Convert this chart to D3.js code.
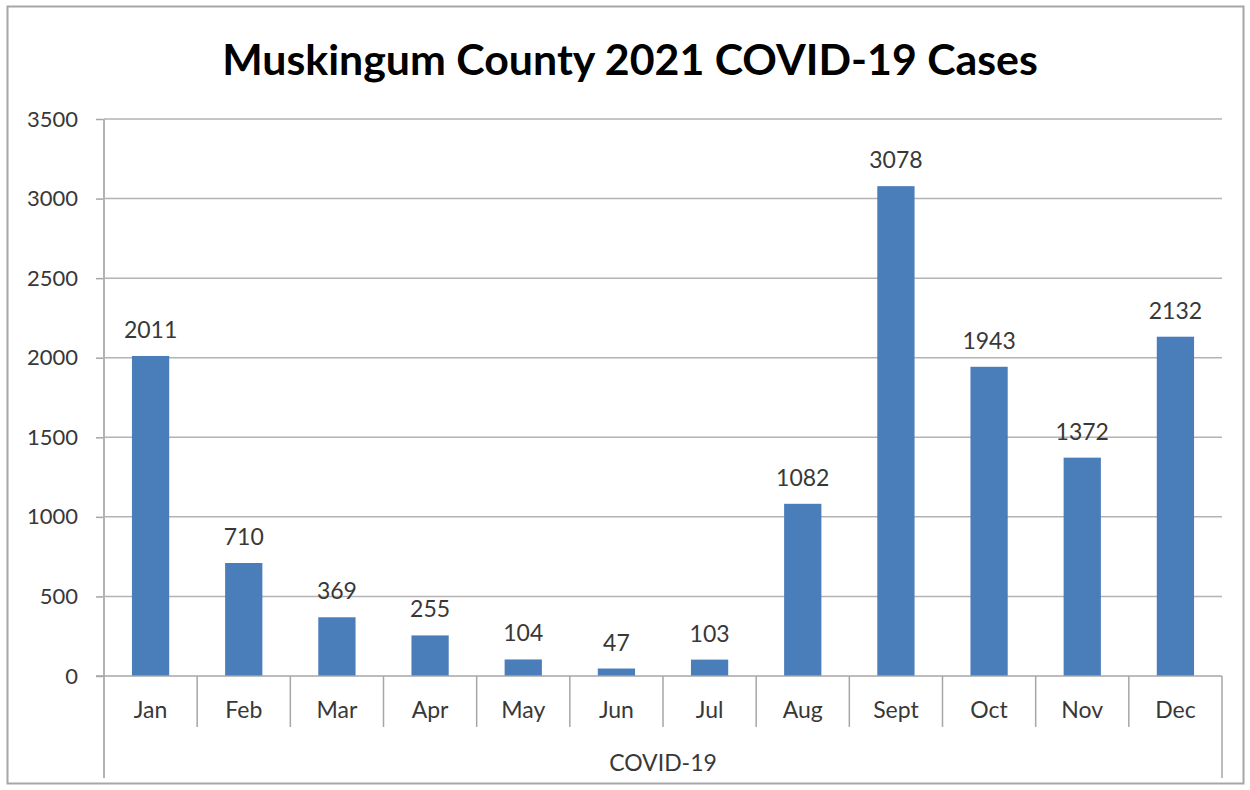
<!DOCTYPE html>
<html><head><meta charset="utf-8">
<script src="https://cdn.jsdelivr.net/npm/d3@7"></script>
<style>body{margin:0;background:#fff;}svg{display:block;}</style>
</head><body>
<script>
const months = ["Jan","Feb","Mar","Apr","May","Jun","Jul","Aug","Sept","Oct","Nov","Dec"];
const cases = [2011,710,369,255,104,47,103,1082,3078,1943,1372,2132];
const yTicks = [0,500,1000,1500,2000,2500,3000,3500];
const title = "Muskingum County 2021 COVID-19 Cases";
const groupLabel = "COVID-19";

const W = 1250, H = 790;
const font = "Lato, 'Open Sans', sans-serif";
const textCol = "#383838";
const svg = d3.select("body").append("svg").attr("width", W).attr("height", H);
svg.append("rect").attr("width", W).attr("height", H).attr("fill", "#fff");
svg.append("rect").attr("x", 7.5).attr("y", 6.5).attr("width", 1236).attr("height", 777)
  .attr("fill", "none").attr("stroke", "#a6a6a6").attr("stroke-width", 2);

const x = d3.scaleBand().domain(months).range([104, 1222]).paddingInner(0.6).paddingOuter(0.3);
const xb = d3.scaleBand().domain(months).range([104, 1222]);
const y = d3.scaleLinear().domain([0, 3500]).range([676, 119]);

// gridlines
svg.append("g").selectAll("line").data(yTicks.filter(d => d > 0)).join("line")
  .attr("x1", 104).attr("x2", 1222).attr("y1", d => y(d)).attr("y2", d => y(d))
  .attr("stroke", "#b3b3b3").attr("stroke-width", 1.5);

// y axis
const yAxis = svg.append("g").attr("transform", "translate(104,0)")
  .call(d3.axisLeft(y).tickValues(yTicks).tickSize(8).tickPadding(18).tickFormat(d3.format("d")));
yAxis.select(".domain").remove();
yAxis.selectAll(".tick line").attr("stroke", "#a6a6a6").attr("stroke-width", 1.5);
yAxis.selectAll(".tick text").attr("font-family", font).attr("font-size", 22).attr("fill", textCol);
svg.append("line").attr("x1", 104).attr("x2", 104).attr("y1", 119).attr("y2", 778)
  .attr("stroke", "#b3b3b3").attr("stroke-width", 2);

// bars
svg.append("g").selectAll("rect").data(months).join("rect")
  .attr("x", (d) => x(d)).attr("width", x.bandwidth())
  .attr("y", (d, i) => y(cases[i])).attr("height", (d, i) => y(0) - y(cases[i]))
  .attr("fill", "#4a7ebb");

// x axis line & separators
svg.append("line").attr("x1", 96).attr("x2", 1222).attr("y1", 676).attr("y2", 676)
  .attr("stroke", "#a6a6a6").attr("stroke-width", 1.5);
svg.append("g").selectAll("line").data(months.slice(1)).join("line")
  .attr("x1", d => xb(d)).attr("x2", d => xb(d)).attr("y1", 676).attr("y2", 727)
  .attr("stroke", "#a6a6a6").attr("stroke-width", 1.5);
svg.append("line").attr("x1", 1222).attr("x2", 1222).attr("y1", 676).attr("y2", 778)
  .attr("stroke", "#a6a6a6").attr("stroke-width", 1.5);

// category labels
svg.append("g").selectAll("text").data(months).join("text")
  .attr("x", d => xb(d) + xb.bandwidth() / 2).attr("y", 718)
  .attr("text-anchor", "middle").attr("font-family", font).attr("font-size", 23).attr("fill", textCol)
  .text(d => d);
svg.append("text").attr("x", 663).attr("y", 771).attr("text-anchor", "middle")
  .attr("font-family", font).attr("font-size", 23).attr("fill", textCol).text(groupLabel);

// value labels
svg.append("g").selectAll("text").data(months).join("text")
  .attr("x", d => x(d) + x.bandwidth() / 2).attr("y", (d, i) => y(cases[i]) - 18)
  .attr("text-anchor", "middle").attr("font-family", font).attr("font-size", 23).attr("fill", textCol)
  .text((d, i) => cases[i]);

// title
const t = svg.append("text").attr("x", 630).attr("y", 75).attr("text-anchor", "middle")
  .attr("font-family", font).attr("font-weight", "bold").attr("font-size", 36).attr("fill", "#000")
  .text(title);
const len = t.node().getComputedTextLength();
t.attr("font-size", 36 * 816 / len);
</script>
</body></html>
